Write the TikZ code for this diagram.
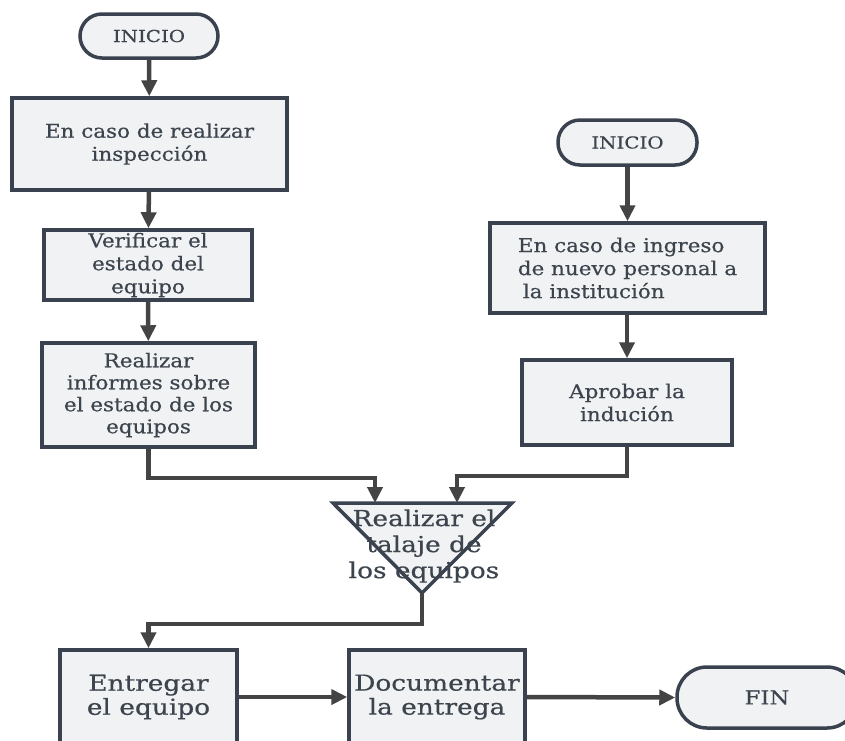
\documentclass[tikz,border=0pt]{standalone}
\usepackage{fontspec}
\setmainfont{DejaVu Serif}[FakeStretch=1.13, FakeBold=0.5]
\newfontfamily\wideserif{DejaVu Serif}[FakeStretch=1.2, FakeBold=0.5]
\usetikzlibrary{arrows.meta,positioning,shapes,calc}
\definecolor{boxline}{RGB}{57,66,78}
\definecolor{boxfill}{RGB}{241,242,244}
\definecolor{arrgray}{RGB}{68,68,68}
\definecolor{txtgray}{RGB}{60,68,78}

\begin{document}
\begin{tikzpicture}[x=1pt, y=-1pt,
    caja/.style={draw=boxline, fill=boxfill, line width=3.5pt, text=txtgray, align=center,
        inner sep=0pt, font=\fontsize{19}{23}\selectfont},
    grande/.style={caja, font=\wideserif\fontsize{22}{24}\selectfont},
    terminal/.style={caja, rounded corners=22pt, font=\wideserif\fontsize{16.5}{18}\selectfont},
    arr/.style={draw=arrgray, line width=4.5pt, -{Triangle[length=16pt,width=15pt]}}]
    \useasboundingbox (0,0) rectangle (845,740);
    \clip (0,0) rectangle (845,740);
    % left column
    \node[terminal, minimum width=138pt, minimum height=44pt] (ini1) at (149,36) {INICIO};
    \node[caja, minimum width=275pt, minimum height=92pt] (insp) at (149.5,144) {En caso de realizar\\inspección};
    \node[caja, minimum width=208pt, minimum height=70pt] (verif) at (148,265) {Verificar el\\estado del\\equipo};
    \node[caja, minimum width=213pt, minimum height=104pt, font=\fontsize{19}{22}\selectfont] (inf) at (148.5,395) {Realizar\\informes sobre\\el estado de los\\equipos};
    % right column
    \node[terminal, minimum width=139pt, minimum height=45pt] (ini2) at (627.5,142.5) {INICIO};
    \node[caja, minimum width=275pt, minimum height=90pt, align=left] (ingr) at (627.5,268) {En caso de ingreso\\de nuevo personal a\\\hspace{5pt}la institución};
    \node[caja, minimum width=210pt, minimum height=85pt] (aprob) at (627,402.5) {Aprobar la\\indución};
    % talaje
    \coordinate (tin1) at (375,503);
    \coordinate (tin2) at (457,503);
    \coordinate (tapex) at (422,593);
    \filldraw[draw=boxline, fill=boxfill, line width=3.5pt, line join=miter] (333,503) -- (512,503) -- (tapex) -- cycle;
    \node[text=txtgray, align=center, font=\wideserif\fontsize{22}{26}\selectfont] (talaje) at (424,546) {Realizar el\\talaje de\\los equipos};
    % bottom row
    \node[grande, minimum width=177pt, minimum height=94pt] (entr) at (148.5,697) {Entregar\\el equipo};
    \node[grande, minimum width=176pt, minimum height=94pt] (doc) at (437,697) {Documentar\\la entrega};
    \node[terminal, rounded corners=30pt, minimum width=180pt, minimum height=61pt, font=\wideserif\fontsize{19}{20}\selectfont] (fin) at (767,697.5) {FIN};
    % connectors
    \draw[arr] (ini1) -- (insp);
    \draw[arr] (insp) -- (verif);
    \draw[arr] (verif) -- (inf);
    \draw[arr] (ini2) -- (ingr);
    \draw[arr] (ingr.south -| aprob) -- (aprob);
    \draw[arr] (inf.south) -- ++(0,29) -| (tin1);
    \draw[arr] (aprob.south) -- ++(0,29) -| (tin2);
    \draw[arr] (tapex) -- ++(0,31) -| (entr.north);
    \draw[arr] (entr.east) -- (doc.west);
    \draw[arr] (doc.east) -- (fin.west);
\end{tikzpicture}
\end{document}
